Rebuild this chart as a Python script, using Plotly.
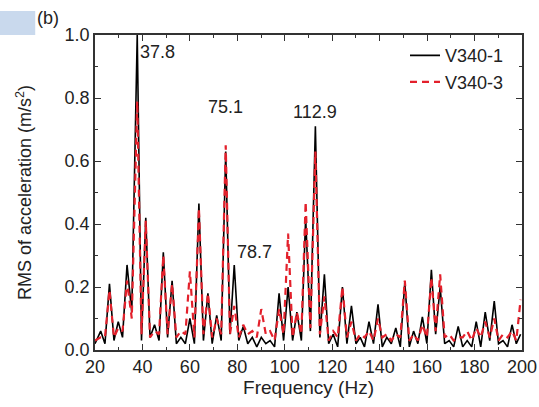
import plotly.graph_objects as go

# ---- data ----
# V340-1 (black): peak frequencies / values and trough frequencies / values
peak_f_1 = [22.4, 26.1, 29.8, 33.5, 37.8, 41.4, 45.1, 48.8, 52.5, 56.2, 60.0, 63.8, 67.6, 71.3,
            75.1, 78.7, 82.5, 86.3, 90.1, 93.8, 97.6, 101.4, 105.1, 108.8, 112.9, 116.7, 120.4,
            124.3, 128.1, 131.8, 135.5, 139.3, 143.0, 146.8, 150.6, 154.3, 158.0, 161.8, 165.5,
            169.3, 173.1, 176.9, 180.7, 184.5, 188.3, 192.0, 195.8, 199.4]
peak_v_1 = [0.06, 0.21, 0.09, 0.27, 1.00, 0.42, 0.08, 0.31, 0.22, 0.04, 0.10, 0.465, 0.18, 0.11,
            0.63, 0.27, 0.075, 0.04, 0.04, 0.03, 0.18, 0.20, 0.12, 0.42, 0.71, 0.24, 0.05,
            0.20, 0.14, 0.04, 0.09, 0.145, 0.04, 0.07, 0.215, 0.06, 0.105, 0.255, 0.20,
            0.03, 0.075, 0.03, 0.09, 0.12, 0.155, 0.03, 0.08, 0.05]
trough_f_1 = [20.0, 24.2, 28.0, 31.6, 35.5, 39.6, 43.2, 47.0, 50.6, 54.3, 58.1, 61.9, 65.7, 69.4,
              73.2, 76.9, 80.6, 84.4, 88.2, 92.0, 95.7, 99.5, 103.3, 107.0, 110.8, 114.8, 118.5,
              122.3, 126.2, 130.0, 133.6, 137.4, 141.1, 144.9, 148.7, 152.5, 156.1, 159.9, 163.6,
              167.4, 171.2, 175.0, 178.8, 182.6, 186.4, 190.1, 193.9, 197.6]
trough_v_1 = [0.02, 0.02, 0.03, 0.04, 0.12, 0.03, 0.04, 0.03, 0.04, 0.02, 0.02, 0.02, 0.03, 0.02,
              0.03, 0.05, 0.03, 0.02, 0.01, 0.02, 0.01, 0.03, 0.03, 0.03, 0.06, 0.04, 0.02,
              0.01, 0.02, 0.02, 0.01, 0.02, 0.01, 0.02, 0.01, 0.01, 0.02, 0.02, 0.05,
              0.02, 0.01, 0.01, 0.01, 0.01, 0.03, 0.02, 0.01, 0.02]

# V340-3 (red dashed)
peak_f_3 = peak_f_1
peak_v_3 = [0.04, 0.19, 0.07, 0.22, 0.79, 0.41, 0.06, 0.30, 0.21, 0.06, 0.25, 0.45, 0.18, 0.10,
            0.65, 0.14, 0.08, 0.06, 0.13, 0.06, 0.13, 0.37, 0.12, 0.47, 0.63, 0.17, 0.06,
            0.20, 0.09, 0.05, 0.06, 0.10, 0.05, 0.05, 0.22, 0.05, 0.08, 0.23, 0.24,
            0.05, 0.04, 0.06, 0.07, 0.09, 0.10, 0.05, 0.06, 0.16]
trough_f_3 = trough_f_1
trough_v_3 = [0.03, 0.04, 0.04, 0.06, 0.10, 0.05, 0.04, 0.05, 0.05, 0.04, 0.05, 0.04, 0.05, 0.04,
              0.05, 0.05, 0.04, 0.05, 0.04, 0.05, 0.03, 0.05, 0.04, 0.05, 0.07, 0.05, 0.03,
              0.04, 0.04, 0.03, 0.04, 0.03, 0.04, 0.03, 0.04, 0.03, 0.03, 0.04, 0.06,
              0.04, 0.03, 0.04, 0.03, 0.04, 0.04, 0.03, 0.04, 0.03]

peak_labels = ["37.8", "75.1", "78.7", "112.9"]
label_f = [37.8, 75.1, 78.7, 112.9]
label_v = [0.946, 0.771, 0.311, 0.756]
label_anchor = ["left", "center", "left", "center"]

x_ticks = [20, 40, 60, 80, 100, 120, 140, 160, 180, 200]
y_ticks = [0.0, 0.2, 0.4, 0.6, 0.8, 1.0]


def merge(pf, pv, tf, tv):
    pts = sorted(list(zip(pf, pv)) + list(zip(tf, tv)))
    return [p[0] for p in pts], [p[1] for p in pts]


x1, y1 = merge(peak_f_1, peak_v_1, trough_f_1, trough_v_1)
x3, y3 = merge(peak_f_3, peak_v_3, trough_f_3, trough_v_3)

FONT = "Liberation Sans, Arial, sans-serif"
RED = "#e3202b"
TXT = "#222222"

fig = go.Figure()
fig.add_trace(go.Scatter(x=x1, y=y1, mode="lines", name="V340-1",
                         line=dict(color="black", width=1.6)))
fig.add_trace(go.Scatter(x=x3, y=y3, mode="lines", name="V340-3",
                         line=dict(color=RED, width=2.2, dash="7px,5px")))

for t, f, v, xa in zip(peak_labels, label_f, label_v, label_anchor):
    xx = f + 0.4 if xa == "left" else f
    fig.add_annotation(x=xx, y=v, text=t, showarrow=False, xanchor=xa, yanchor="middle",
                       font=dict(size=18, color=TXT, family=FONT))

fig.add_annotation(xref="paper", yref="paper", x=-0.11, y=1.054, text="(b)", showarrow=False,
                   xanchor="center", yanchor="middle",
                   font=dict(size=18, color=TXT, family=FONT))
fig.add_shape(type="rect", xref="paper", yref="paper", x0=-0.225, x1=-0.14, y0=1.0, y1=1.076,
              fillcolor="#c9d9ed", line=dict(width=0), layer="below")

axis_common = dict(showline=True, linecolor="#333333", linewidth=1.5, mirror="ticks",
                   ticks="inside", ticklen=6, tickwidth=1.3, tickcolor="#333333",
                   showgrid=False, zeroline=False, automargin=False,
                   tickfont=dict(size=18, color=TXT, family=FONT))

fig.update_xaxes(range=[20, 200], tickvals=x_ticks, ticktext=[str(v) for v in x_ticks],
                 title=dict(text="Frequency (Hz)", font=dict(size=19, color=TXT, family=FONT),
                            standoff=2),
                 minor=dict(ticks="inside", ticklen=3, tickwidth=1, tickcolor="#333333", dtick=10),
                 **axis_common)
fig.update_yaxes(range=[0, 1.0], tickvals=y_ticks, ticktext=[f"{v:.1f}" for v in y_ticks],
                 title=dict(text="RMS of acceleration (m/s<sup>2</sup>)",
                            font=dict(size=18, color=TXT, family=FONT), standoff=28),
                 minor=dict(ticks="inside", ticklen=3, tickwidth=1, tickcolor="#333333", dtick=0.1),
                 **axis_common)

fig.update_layout(
    width=539, height=407,
    margin=dict(l=95, r=17, t=35, b=57),
    paper_bgcolor="white", plot_bgcolor="white",
    font=dict(family=FONT, size=18, color=TXT),
    legend=dict(x=0.726, y=0.993, xanchor="left", yanchor="top", bgcolor="rgba(0,0,0,0)",
                font=dict(size=18, family=FONT), tracegroupgap=0),
    showlegend=True,
)

fig.write_html("out.html", config={"displayModeBar": False},
               post_script="document.body.style.margin='0';")
